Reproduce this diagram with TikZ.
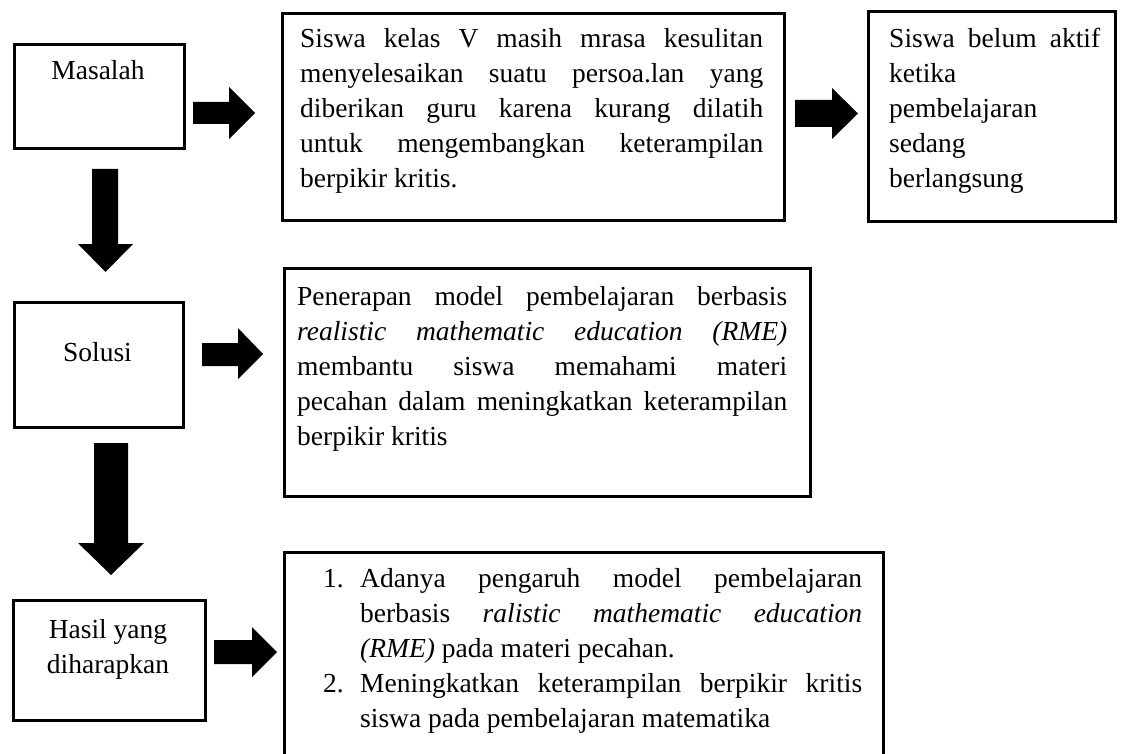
\documentclass[tikz,border=0pt]{standalone}
\usepackage{fontspec}
\setmainfont{Liberation Serif}
\newcommand\fsz{\fontsize{27.5}{35}\selectfont}
\begin{document}
\begin{tikzpicture}[x=1pt,y=-1pt,
  box/.style={draw, line width=3.3pt, inner sep=0pt, anchor=north west},
  para/.style={inner sep=0pt, anchor=north west, font=\fsz, align=justify},
  lbl/.style={inner sep=0pt, anchor=base, font=\fsz},
  num/.style={inner sep=0pt, anchor=base west, font=\fsz},
  blk/.style={fill=black}]
\useasboundingbox (0,0) rectangle (1126,754);
\clip (0,0) rectangle (1126,754);

% boxes
\node[box, minimum width=170pt, minimum height=104pt] (b1) at (13,43) {};
\node[box, minimum width=502pt, minimum height=207pt] (b2) at (281,12) {};
\node[box, minimum width=247pt, minimum height=210pt] (b3) at (867,10) {};
\node[box, minimum width=169pt, minimum height=125pt] (b4) at (13,301) {};
\node[box, minimum width=526pt, minimum height=228pt] (b5) at (283,267) {};
\node[box, minimum width=192pt, minimum height=120pt] (b6) at (12,599) {};
\node[box, minimum width=599pt, minimum height=260pt] (b7) at (283,551) {};

% labels
\node[lbl] (t1) at (98,80) {Masalah};
\node[lbl] (t4) at (97.5,361) {Solusi};
\node[inner sep=0pt, anchor=north, font=\fsz, align=center] (t6) at (108,614)
  {\rule{0pt}{24pt}Hasil yang\\diharapkan};

\node[para, text width=463pt] (t2) at (300,23)
  {\rule{0pt}{24pt}Siswa kelas V masih mrasa kesulitan\linebreak
   menyelesaikan suatu persoa.lan yang\linebreak
   diberikan guru karena kurang dilatih\linebreak
   untuk mengembangkan keterampilan\linebreak
   berpikir kritis.};

\node[para, text width=211pt] (t3) at (889,23)
  {\rule{0pt}{24pt}Siswa belum aktif\linebreak
   ketika\newline pembelajaran\newline sedang\newline berlangsung};

\node[para, text width=490pt] (t5) at (297,281)
  {\rule{0pt}{24pt}Penerapan model pembelajaran berbasis\linebreak
   \textit{realistic mathematic education (RME)}\linebreak
   membantu siswa memahami materi\linebreak
   pecahan dalam meningkatkan keterampilan\linebreak
   berpikir kritis};

% numbered list
\node[num] (n1) at (323,587) {1.};
\node[para, text width=502pt] (t7a) at (360,563)
  {\rule{0pt}{24pt}Adanya pengaruh model pembelajaran\linebreak
   berbasis \textit{ralistic mathematic education}\linebreak
   \textit{(RME)} pada materi pecahan.};
\node[num] (n2) at (323,692) {2.};
\node[para, text width=502pt] (t7b) at (360,668)
  {\rule{0pt}{24pt}Meningkatkan keterampilan berpikir kritis\linebreak
   siswa pada pembelajaran matematika};

% block arrows
\fill[blk] (193,102) -- (229,102) -- (229,87) -- (255,113) -- (229,139) -- (229,124) -- (193,124) -- cycle;
\fill[blk] (795,100) -- (832,100) -- (832,88) -- (858,113.5) -- (832,139) -- (832,127) -- (795,127) -- cycle;
\fill[blk] (202,343) -- (238,343) -- (238,328) -- (263,354) -- (238,379) -- (238,366) -- (202,366) -- cycle;
\fill[blk] (214,640) -- (252,640) -- (252,627) -- (277,652) -- (252,677) -- (252,664) -- (214,664) -- cycle;
\fill[blk] (92,169) -- (118,169) -- (118,244) -- (133,244) -- (105.5,272) -- (78,244) -- (92,244) -- cycle;
\fill[blk] (94,443) -- (128,443) -- (128,543) -- (144,543) -- (111,575) -- (78,543) -- (94,543) -- cycle;
\end{tikzpicture}
\end{document}
